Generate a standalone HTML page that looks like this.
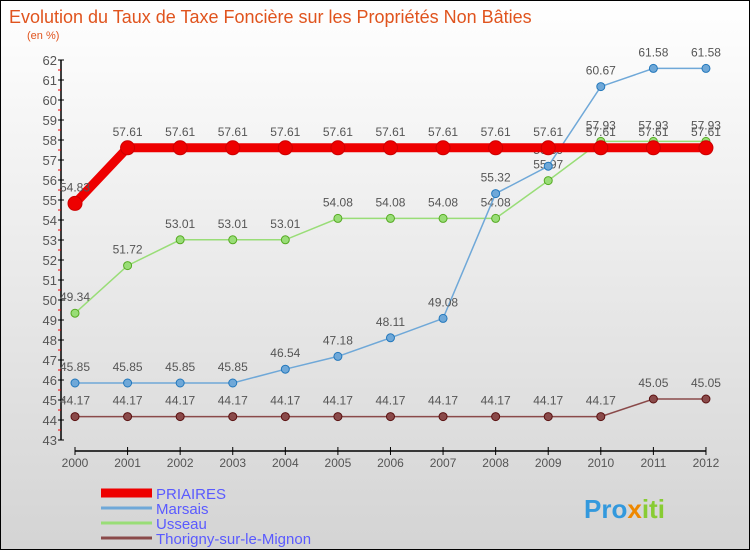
<!DOCTYPE html>
<html><head><meta charset="utf-8"><style>
body{margin:0}
#c{width:748px;height:548px;border:1px solid #000;background:linear-gradient(#ffffff,#d4d4d4);position:relative;font-family:"Liberation Sans",sans-serif;overflow:hidden}
</style></head><body>
<div id="c">
<svg id="s" width="748" height="548" xmlns="http://www.w3.org/2000/svg"></svg>
</div>
<script>
const years=[2000,2001,2002,2003,2004,2005,2006,2007,2008,2009,2010,2011,2012];
const priaires=[54.83,57.61,57.61,57.61,57.61,57.61,57.61,57.61,57.61,57.61,57.61,57.61,57.61];
const marsais=[45.85,45.85,45.85,45.85,46.54,47.18,48.11,49.08,55.32,56.69,60.67,61.58,61.58];
const usseau=[49.34,51.72,53.01,53.01,53.01,54.08,54.08,54.08,54.08,55.97,57.93,57.93,57.93];
const thorigny=[44.17,44.17,44.17,44.17,44.17,44.17,44.17,44.17,44.17,44.17,44.17,45.05,45.05];
const yTicks=[43,44,45,46,47,48,49,50,51,52,53,54,55,56,57,58,59,60,61,62];
const S=document.getElementById('s'),NS='http://www.w3.org/2000/svg';
const X=i=>74+i*52.58, Y=v=>59+(62-v)*20;
function mk(t,a,p){const e=document.createElementNS(NS,t);for(const k in a)e.setAttribute(k,a[k]);(p||S).appendChild(e);return e;}
function tx(x,y,s,a,p){const e=mk('text',Object.assign({x:x,y:y,'font-size':12,fill:'#555'},a||{}),p);e.textContent=s;return e;}
let t=tx(8,22,'Evolution du Taux de Taxe Foncière sur les Propriétés Non Bâties',{'font-size':18,fill:'#e0541e'});

t=tx(26,38,'(en %)',{'font-size':11,fill:'#e0541e'});

let ya=mk('line',{x1:60,y1:Y(62),x2:60,y2:Y(43),stroke:'#000','stroke-width':1.5});

yTicks.forEach((v,i)=>{mk('line',{x1:57,y1:Y(v),x2:63,y2:Y(v),stroke:'#000'});
 if(i<yTicks.length-1)mk('line',{x1:57,y1:Y(v+0.5),x2:60,y2:Y(v+0.5),stroke:'#e00'});
 const l=tx(56,Y(v)+5,String(v),{'text-anchor':'end','font-size':13});
 });
let xa=mk('line',{x1:X(0),y1:450,x2:X(12),y2:450,stroke:'#000','stroke-width':1.5});

years.forEach((y,i)=>{mk('line',{x1:X(i),y1:446,x2:X(i),y2:454,stroke:'#000'});
 const l=tx(X(i),466,String(y),{'text-anchor':'middle','font-size':12});
 });
function series(d,col,w,r,name,dark){
 const g=mk('g',{});
 mk('polyline',{points:d.map((v,i)=>X(i)+','+Y(v)).join(' '),fill:'none',stroke:col,'stroke-width':w},g);
 d.forEach((v,i)=>{const c=mk('circle',{cx:X(i),cy:Y(v),r:r,fill:col,stroke:dark,'stroke-width':1},g);
  
  tx(X(i),Y(v)-12,v.toFixed(2).replace(/0$/,''),{'text-anchor':'middle','font-size':12,fill:'#555'},g);});
}
series(thorigny,'#8a4a4a',1.5,4,'thorigny','#5a1010');
series(usseau,'#99dd77',1.5,4,'usseau','#55aa22');
series(marsais,'#6fa8d8',1.5,4,'marsais','#2277bb');
series(priaires,'#ee0000',9,7,'priaires','#cc0000');
const leg=[['PRIAIRES','#ee0000',9],['Marsais','#6fa8d8',3],['Usseau','#99dd77',3],['Thorigny-sur-le-Mignon','#8a4a4a',3]];
leg.forEach((l,i)=>{const y=492+i*15;const g=mk('g',{});
 
 mk('line',{x1:100,y1:y,x2:151,y2:y,stroke:l[1],'stroke-width':l[2]},g);
 tx(155,y+6,l[0],{'font-size':15,fill:'#5a5aff'},g);});
const lg=mk('text',{x:583,y:517,'font-size':26,'font-weight':'bold'});

[['Pro','#3399dd'],['x','#ee8800'],['iti','#88cc33']].forEach(p=>{const s=mk('tspan',{fill:p[1]},lg);s.textContent=p[0];});
</script>
</body></html>
